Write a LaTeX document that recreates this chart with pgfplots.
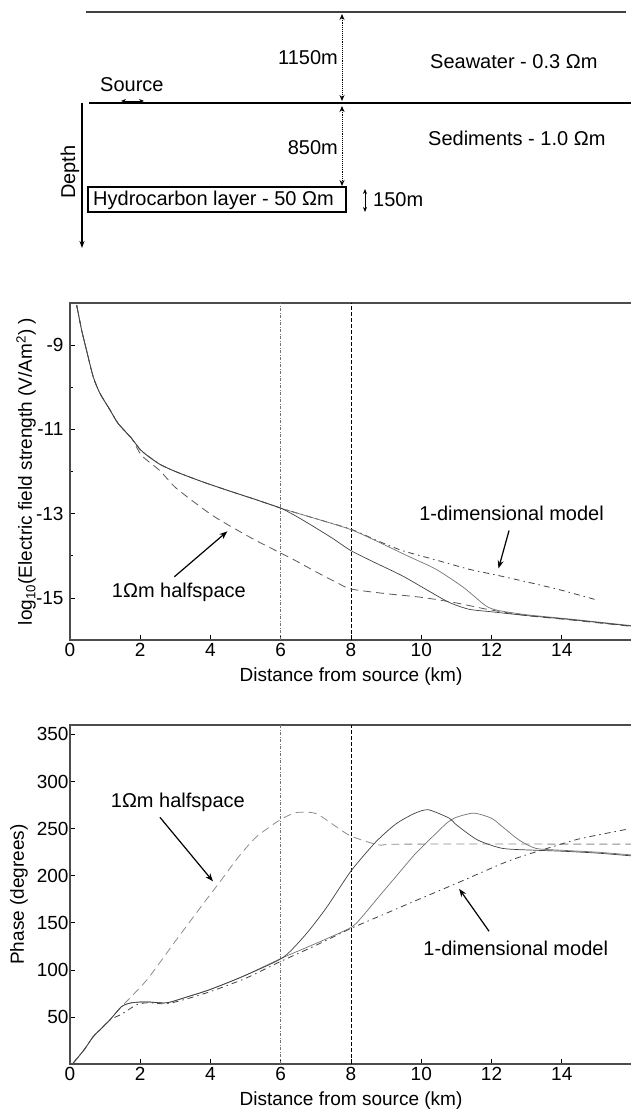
\documentclass[border=0pt]{standalone}
\usepackage{fontspec}
\setmainfont{Liberation Sans}
\usepackage{pgfplots}
\usepackage{pgfplotstable}
\pgfplotsset{compat=1.18}
\usetikzlibrary{arrows.meta}

% ---------- top panel: log10 |E| ----------
\pgfplotstableread{
x y
0.19 -8.05
0.33 -8.64
0.47 -9.12
0.66 -9.75
0.85 -10.14
1.14 -10.54
1.37 -10.86
1.75 -11.21
2.0 -11.48
2.2 -11.62
2.56 -11.83
3.0 -12.0
3.79 -12.25
4.64 -12.49
5.3 -12.67
6.0 -12.87
6.5 -13.09
7.0 -13.34
7.5 -13.6
8.0 -13.88
8.7 -14.17
9.47 -14.48
10.2 -14.83
10.8 -15.11
11.36 -15.27
12.0 -15.33
13.0 -15.42
14.2 -15.51
15.0 -15.58
16.0 -15.67
}\EA
\pgfplotstableread{
x y
0.19 -8.05
0.33 -8.64
0.47 -9.12
0.66 -9.75
0.85 -10.14
1.14 -10.54
1.37 -10.86
1.75 -11.21
2.0 -11.48
2.2 -11.62
2.56 -11.83
3.0 -12.0
3.79 -12.25
4.64 -12.49
5.3 -12.67
6.0 -12.87
7.0 -13.12
8.0 -13.38
8.8 -13.68
9.6 -14.0
10.42 -14.32
11.2 -14.75
11.84 -15.19
12.2 -15.3
13.0 -15.4
14.2 -15.5
16.0 -15.66
}\EB
\pgfplotstableread{
x y
0.19 -8.05
0.33 -8.64
0.47 -9.12
0.66 -9.75
0.85 -10.14
1.14 -10.54
1.37 -10.86
1.75 -11.21
2.0 -11.48
2.2 -11.62
2.56 -11.83
3.0 -12.0
3.79 -12.25
4.64 -12.49
5.3 -12.67
6.0 -12.87
7.0 -13.12
8.0 -13.37
8.8 -13.66
9.47 -13.88
10.42 -14.1
11.36 -14.32
12.2 -14.47
13.26 -14.67
14.0 -14.82
15.0 -15.05
}\EOneD
\pgfplotstableread{
x y
0.19 -8.05
0.33 -8.64
0.47 -9.12
0.66 -9.75
0.85 -10.14
1.14 -10.54
1.37 -10.86
1.75 -11.21
2.04 -11.62
2.56 -11.98
3.03 -12.4
4.07 -13.05
5.21 -13.6
6.34 -14.08
7.0 -14.38
7.58 -14.63
8.0 -14.79
9.0 -14.9
10.04 -14.99
11.0 -15.12
11.93 -15.28
13.0 -15.42
14.2 -15.52
15.9 -15.67
}\EHalf

% ---------- bottom panel: phase ----------
\pgfplotstableread{
x y
0.09 1
0.4 15
0.66 29
0.9 38
1.14 47
1.47 61
1.75 65
2.18 66
2.75 65
3.31 71
3.98 79
4.92 93
6.06 113
6.72 138
7.3 166
8.0 205
8.71 236
9.28 255
9.8 266
10.2 270
10.8 261
11.0 254
11.6 238
12.31 229
13.26 227
14.0 226
15.0 224
16.0 221
}\PA
\pgfplotstableread{
x y
0.09 1
0.4 15
0.66 29
0.9 38
1.14 47
1.47 61
1.75 65
2.18 66
2.75 65
3.31 71
3.98 79
4.92 93
6.06 113
7.0 128
8.0 145
8.33 157
8.8 178
9.3 200
9.8 222
10.04 231
10.7 255
11.0 262
11.5 266.4
12.0 261
12.31 252
12.78 238
13.26 229
14.0 227
15.0 225
16.0 222
}\PB
\pgfplotstableread{
x y
0.09 1
0.4 15
0.66 29
0.9 38
1.14 47
1.42 52
1.6 56
1.9 63
2.2 65
2.75 64
3.31 69
4.0 77
5.0 91
6.0 109
7.0 126
8.0 144
9.0 160
9.66 170.6
11.0 191.8
12.31 213
12.9 221
13.5 228
14.49 239
15.9 249.6
}\POneD
\pgfplotstableread{
x y
0.09 1
0.4 15
0.66 29
0.9 38
1.14 47
1.47 61
2.18 89
3.03 132
3.79 170
4.26 193
4.8 220
5.3 241
5.97 259
6.44 267
7.0 266
7.58 252
8.0 242
8.8 232.6
9.5 233.5
16.0 233.5
}\PHalf

\pgfplotsset{
  myaxis/.style={
    scale only axis,
    width=562pt, height=337pt,
    xmin=0, xmax=16,
    xtick={0,2,...,14},
    xtick pos=bottom, ytick pos=left,
    tick align=inside,
    major tick length=5pt, minor tick length=3pt,
    tick style={black, line width=0.6pt},
    axis line style={line width=1.5pt, black!70},
    font=\fontsize{19}{22}\selectfont,
    tick label style={font=\fontsize{19}{22}\selectfont},
    /pgf/number format/assume math mode=true,
    xlabel={Distance from source (km)},
    xlabel style={at={(axis description cs:0.5,0)}, anchor=center, yshift=-37pt},
    clip=true,
  },
  sA/.style={black!75, line width=0.7pt, smooth, tension=0.4},
  sB/.style={black!55, line width=0.7pt, smooth, tension=0.4},
  s1D/.style={black!75, line width=0.8pt, smooth, tension=0.4, dash pattern=on 6pt off 4pt on 1.5pt off 4pt},
  sHalf/.style={black!65, line width=0.8pt, smooth, tension=0.4, dash pattern=on 8pt off 5pt},
  v6/.style={black!55, line width=0.6pt, dash pattern=on 3pt off 1.5pt on 1pt off 1.5pt},
  v8/.style={black, line width=0.8pt, dash pattern=on 4pt off 2pt},
}

\begin{document}
\begin{tikzpicture}
\useasboundingbox (0pt,0pt) rectangle (630pt,-1110pt);

% ---------------- schematic ----------------
\begin{scope}[x=1pt,y=1pt, font=\fontsize{20}{24}\selectfont]
\draw[line width=1.3pt, black!75] (86,-12) -- (626,-12);
\draw[line width=1.8pt] (89,-103) -- (632,-103);
\draw[line width=0.9pt, densely dotted, {Stealth[length=6pt,width=5pt]}-{Stealth[length=6pt,width=5pt]}] (342,-14) -- (342,-101);
\draw[line width=0.9pt, densely dotted, {Stealth[length=6pt,width=5pt]}-{Stealth[length=6pt,width=5pt]}] (342,-106) -- (342,-186);
\node[anchor=east, inner sep=0pt] at (338,-58) {1150m};
\node[anchor=east, inner sep=0pt] at (338,-148) {850m};
\node[anchor=west, inner sep=0pt] at (430,-62) {Seawater - 0.3 Ωm};
\node[anchor=west, inner sep=0pt] at (428,-138) {Sediments - 1.0 Ωm};
\node[anchor=west, inner sep=0pt] at (100,-85) {Source};
\draw[line width=0.9pt, {Stealth[length=5pt,width=4pt]}-{Stealth[length=5pt,width=4pt]}] (121,-101) -- (144,-101);
\draw[line width=1.4pt] (88,-187) rectangle (346,-212);
\node[anchor=west, inner sep=0pt] at (93,-200) {Hydrocarbon layer - 50 Ωm};
\draw[line width=0.9pt, {Stealth[length=5pt,width=4pt]}-{Stealth[length=5pt,width=4pt]}] (365,-189) -- (365,-212);
\node[anchor=west, inner sep=0pt] at (373,-200) {150m};
\draw[line width=1.4pt, -{Stealth[length=7pt,width=5pt]}] (82,-103) -- (82,-248);
\node[rotate=90, inner sep=0pt] at (70,-172) {Depth};
\end{scope}

% ---------------- top panel ----------------
\begin{axis}[myaxis,
  at={(70pt,-640pt)}, anchor=south west,
  ymin=-16, ymax=-8,
  ytick={-15,-13,-11,-9}, minor ytick={-14,-12,-10},
  yticklabel style={xshift=-3pt},
  ylabel={log\textsubscript{10}(Electric field strength (V/Am\textsuperscript{2}) )},
  ylabel style={at={(axis description cs:-0.078,0.5)}, anchor=center, rotate=0},
]
\addplot[v6] coordinates {(6,-16) (6,-8)};
\addplot[v8] coordinates {(8,-16) (8,-8)};
\addplot[sHalf] table[x=x,y=y] {\EHalf};
\addplot[s1D] table[x=x,y=y] {\EOneD};
\addplot[sB] table[x=x,y=y] {\EB};
\addplot[sA] table[x=x,y=y] {\EA};
\node[font=\fontsize{20}{24}\selectfont] at (axis cs:3.1,-14.88) {1Ωm halfspace};
\draw[line width=1.2pt, -{Stealth[length=8pt,width=6pt]}] (axis cs:2.97,-14.5) -- (axis cs:4.48,-13.42);
\node[font=\fontsize{20}{24}\selectfont] at (axis cs:12.57,-13.0) {1-dimensional model};
\draw[line width=1.2pt, -{Stealth[length=8pt,width=6pt]}] (axis cs:12.5,-13.4) -- (axis cs:12.2,-14.3);
\end{axis}

% ---------------- bottom panel ----------------
\begin{axis}[myaxis,
  at={(70pt,-1064pt)}, anchor=south west,
  height=339pt,
  ymin=0, ymax=360,
  ytick={50,100,...,350},
  yticklabel style={xshift=2pt},
  ylabel={Phase (degrees)},
  ylabel style={at={(axis description cs:-0.091,0.5)}, anchor=center, rotate=0},
]
\addplot[v6] coordinates {(6,0) (6,360)};
\addplot[v8] coordinates {(8,0) (8,360)};
\addplot[sHalf, black!45] table[x=x,y=y] {\PHalf};
\addplot[s1D] table[x=x,y=y] {\POneD};
\addplot[sB] table[x=x,y=y] {\PB};
\addplot[sA] table[x=x,y=y] {\PA};
\node[font=\fontsize{20}{24}\selectfont] at (axis cs:3.07,278) {1Ωm halfspace};
\draw[line width=1.2pt, -{Stealth[length=8pt,width=6pt]}] (axis cs:2.56,262) -- (axis cs:4.07,194);
\node[font=\fontsize{20}{24}\selectfont] at (axis cs:12.69,123) {1-dimensional model};
\draw[line width=1.2pt, -{Stealth[length=8pt,width=6pt]}] (axis cs:11.93,141) -- (axis cs:11.08,186);
\end{axis}
\end{tikzpicture}
\end{document}
